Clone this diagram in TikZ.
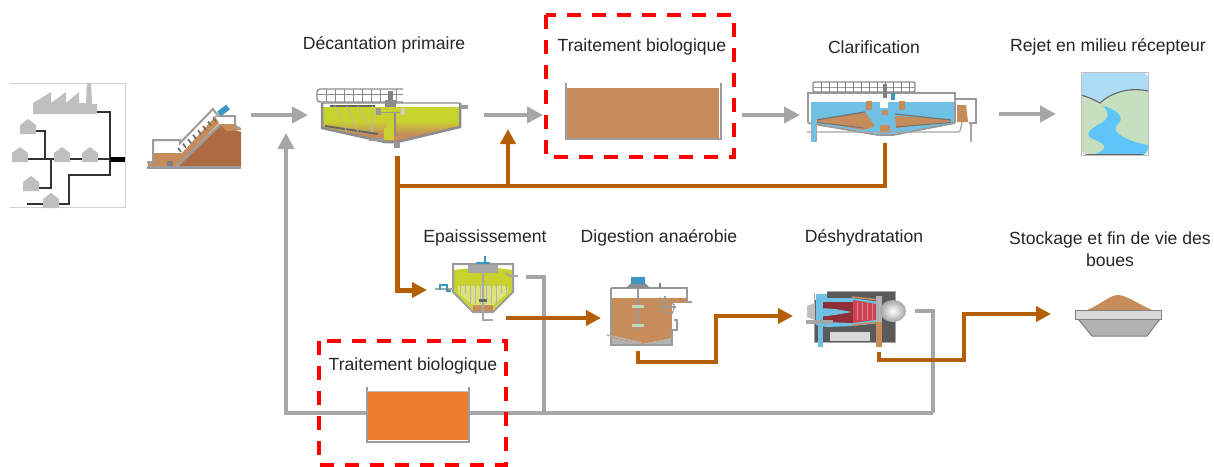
\documentclass[tikz,border=0pt]{standalone}
\usepackage{fontspec}
\setmainfont{Liberation Sans}
\usetikzlibrary{arrows.meta}
\definecolor{flow}{HTML}{A6A6A6}
\definecolor{sludge}{HTML}{B45F06}
\definecolor{mud}{HTML}{C68D5A}
\definecolor{hill}{HTML}{AE6A42}
\definecolor{wall}{HTML}{9C9C9C}
\definecolor{lime}{HTML}{C8D22D}
\definecolor{water}{HTML}{6EC1E4}
\definecolor{motor}{HTML}{3E97C0}
\definecolor{orangefill}{HTML}{ED7D31}
\definecolor{pale}{HTML}{D9D9D9}
\definecolor{dark}{HTML}{5A5A5A}
\definecolor{sky}{HTML}{AEDCF4}
\definecolor{land}{HTML}{C5DFBF}
\definecolor{river}{HTML}{5EC5F8}
\definecolor{rotor}{HTML}{CC4450}
\definecolor{imp}{HTML}{BFD8B8}
\tikzset{
  x=1pt,y=-1pt,
  flowline/.style={draw=flow,line width=4pt},
  flowarrow/.style={flowline,-{Triangle[length=16pt,width=16pt]}},
  sludgeline/.style={draw=sludge,line width=4pt},
  sludgearrow/.style={sludgeline,-{Triangle[length=15pt,width=15pt]}},
  redbox/.style={draw=red,line width=4pt,dash pattern=on 14pt off 11pt},
  label/.style={font=\fontsize{17.6pt}{22pt}\selectfont,text=black!85,align=center,inner sep=0pt},
  wl/.style={draw=wall,line width=2pt},
  pipe/.style={draw=black!80,line width=2pt},
  bldg/.style={fill=black!25,draw=none},
}
\newcommand{\house}[2]{\fill[bldg] (#1-8,#2+7) -- (#1-8,#2-2) -- (#1,#2-8) -- (#1+8,#2-2) -- (#1+8,#2+7) -- cycle;}
\begin{document}
\begin{tikzpicture}
\useasboundingbox (0,0) rectangle (1214,466);
\fill[white] (0,0) rectangle (1214,466);

% ---- named connection points
\coordinate (screenout) at (251,115);
\coordinate (primin) at (308,115);
\coordinate (primout) at (484,115);
\coordinate (bioin) at (543,115);
\coordinate (bioout) at (742,115);
\coordinate (clarin) at (800,115);
\coordinate (clarout) at (999,114);
\coordinate (rivin) at (1056,114);
\coordinate (primdrain) at (397,156);
\coordinate (junc) at (397,186);
\coordinate (thkfeedcorner) at (397,290);
\coordinate (thkin) at (427,290);
\coordinate (clardrain) at (885,143);
\coordinate (clarcorner) at (885,186);
\coordinate (upj) at (508,186);
\coordinate (bioreturn) at (508,129);
\coordinate (thkout) at (506,318);
\coordinate (digin) at (601,318);
\coordinate (digout) at (638,351);
\coordinate (digc1) at (638,362);
\coordinate (digc2) at (716,362);
\coordinate (digc3) at (716,316);
\coordinate (dewin) at (793,316);
\coordinate (dewout) at (879,352);
\coordinate (dewc1) at (879,360);
\coordinate (dewc2) at (964,360);
\coordinate (dewc3) at (964,314);
\coordinate (storein) at (1051,314);
\coordinate (thkover) at (526,277);
\coordinate (thkc) at (544,277);
\coordinate (thkj) at (544,413);
\coordinate (dewover) at (915,311);
\coordinate (dewc) at (933,311);
\coordinate (dewj) at (933,413);
\coordinate (tankr) at (469,413);
\coordinate (tankl) at (367,413);
\coordinate (retc) at (286,413);
\coordinate (retin) at (286,133);

% ---- catchment
\draw[draw=black!18,line width=.8pt] (10,83) -- (125,83) -- (125,207) -- (10,207);
\fill[bldg] (33,114) -- (33,103) -- (51,92) -- (51,103) -- (66,92) -- (66,103) -- (79,92) -- (79,103) -- (86,103) -- (87,83) -- (91,83) -- (92,104) -- (97,104) -- (97,114) -- cycle;
\draw[pipe] (97,112) -- (110,112) -- (110,175) -- (69,175) -- (69,204) -- (27,204);
\draw[pipe] (36,131) -- (45,131) -- (45,159);
\draw[pipe] (28,159) -- (110,159);
\draw[pipe] (51,159) -- (51,188) -- (38,188);
\draw[draw=black,line width=5pt] (110,159) -- (125,159);
\house{28}{127}\house{20}{155}\house{62}{155}\house{90}{155}\house{31}{184}\house{51}{201}

% ---- screen
\fill[hill] (176,167) -- (220,125) -- (241,132) -- (241,167) -- cycle;
\fill[mud] (148,167) -- (176,167) -- (219,123) -- (215,117) -- (182,153) -- (154,153) -- (154,163) -- (148,163) -- cycle;
\fill[mud] (220,124) -- (235,124) -- (241,130) -- (226,131) -- cycle;
\draw[draw=wall,line width=2.5pt] (176,167) -- (220,125);
\draw[wl] (147,162) -- (153,162) -- (153,140) -- (180,140) -- (180,143) -- (213,109) -- (218,116) -- (235,116) -- (235,126) -- (241,129);
\fill[wall] (147,166) rectangle (241,168.5);
\foreach \t in {0,...,7}{\draw[draw=black!60,line width=1.6pt] (178+\t*5,148-\t*4.4) -- (181+\t*5,152-\t*4.4);}
\fill[black!50] (167,161) rectangle (173,166);
\draw[draw=black!30,line width=2pt] (214,118) -- (219,114);
\draw[draw=motor,line width=6pt] (219,114) -- (228,107);

% ---- primary settler
\begin{scope}
  \clip (322,107) -- (460,107) -- (460,127) -- (397,142) -- (385,142) -- (322,128) -- cycle;
  \fill[lime] (322,107) rectangle (460,122);
  \shade[top color=lime,bottom color=mud] (322,121) rectangle (460,134);
  \fill[mud] (322,133.5) rectangle (460,143);
\end{scope}
\draw[draw=black!30,line width=1.5pt] (322,103) -- (460,103);
\draw[draw=black!45,line width=2.5pt] (322,103) -- (322,128) -- (385,142) -- (397,142) -- (460,127) -- (460,103);
\draw[draw=black!60,line width=2pt] (325,126) -- (378,134);
\draw[draw=black!60,line width=1.5pt] (330,106) -- (375,106);
\foreach \a/\b in {335/347,347/358,358/372}{\draw[draw=black!28,line width=.7pt] (\a,106) -- (\b,132);}
\draw[draw=black!28,line width=.7pt] (372,106) -- (372,132);
\draw[draw=black!45,line width=1.4pt,rounded corners=3pt] (403,89) -- (317,89) -- (317,102) -- (403,102);
\draw[draw=black!45,line width=1pt] (317,94) -- (403,94);
\foreach \a in {326,335,344,353,362,371,380,396}{\draw[draw=black!45,line width=.8pt] (\a,89) -- (\a,102);}
\fill[black!50] (388,91) rectangle (393,102);
\fill[black!45] (385,100) rectangle (396,107);
\fill[black!40] (376,108) rectangle (381,115);
\fill[black!20] (401,108) rectangle (405,115);
\draw[draw=black!40,line width=1pt] (381,112) -- (400,112);
\fill[black!45] (394,113) rectangle (395.5,136);
\fill[lime] (387,113) rectangle (394,128);
\fill[lime] (384,128) rectangle (394,140);
\fill[black!40] (369,138) rectangle (384,141);
\fill[black!40] (394,142) rectangle (400,148);
\fill[black!40] (460,105) rectangle (468,109);

% ---- biological tank 1
\fill[mud] (567,88) rectangle (719,138);
\draw[draw=wall,line width=2.5pt] (566,83) -- (566,139) -- (721,139) -- (721,83);

% ---- clarifier
\fill[water] (811,102) rectangle (955,123);
\fill[water] (811,123) -- (955,123) -- (893,134) -- (878,134) -- cycle;
\fill[white] (862,93) rectangle (900,100);
\fill[white] (880,93) rectangle (888,108);
\fill[mud] (817,119) -- (865,112) -- (875,126) -- (864,130) -- (817,122) -- cycle;
\fill[mud] (895,116) -- (896,128) -- (951,122) -- (951,119) -- cycle;
\fill[mud] (866,101) rectangle (872,110);
\fill[mud] (899,101) rectangle (905,110);
\fill[mud] (882,110) rectangle (888,115);
\fill[mud] (880,125) rectangle (890,133);
\draw[draw=black!55,line width=1.2pt] (817,120) -- (865,112);
\draw[draw=black!55,line width=1.2pt] (895,114) -- (951,120);
\draw[draw=black!55,line width=1pt] (817,122.5) -- (864,128);
\draw[draw=black!55,line width=1pt] (896,127) -- (951,122.5);
\draw[draw=black!40,line width=1.8pt] (808,123) -- (808,93) -- (955,93) -- (955,123);
\draw[draw=black!40,line width=1.8pt] (808,123) -- (878,135) -- (893,135) -- (955,123);
\draw[draw=black!40,line width=1.2pt] (955,99) -- (976,99) -- (976,123) -- (969,123);
\fill[mud] (957,105) -- (966,105) -- (968,122) -- (957,122) -- cycle;
\draw[draw=black!45,line width=1.4pt,rounded corners=2pt] (813,92) -- (813,82) -- (915,82) -- (915,92) -- cycle;
\draw[draw=black!40,line width=1pt] (813,87) -- (915,87);
\foreach \a in {821,829,837,845,853,861,869,877,885,893,901,909}{\draw[draw=black!50,line width=.9pt] (\a,82) -- (\a,92);}
\fill[black!50] (883,84) rectangle (887,98);
\fill[motor] (891,93) rectangle (895,100);
\draw[draw=black!35,line width=1.3pt,rounded corners=1.5pt] (807,132) -- (960,132) -- (962,122);
\fill[water] (812,123) rectangle (816,142);
\draw[draw=black!35,line width=1pt] (811.5,123) -- (811.5,142) (816.5,123) -- (816.5,142);
\draw[draw=black!35,line width=2pt] (971,123) -- (971,142);

% ---- river
\begin{scope}
  \clip[rounded corners=7pt] (1081,72) -- (1148,72) -- (1148,155) -- (1081,155) -- cycle;
  \fill[land] (1081,72) rectangle (1148,155);
  \fill[sky] (1081,72) -- (1148,72) -- (1148,91) .. controls (1130,87) and (1112,92) .. (1100,103) .. controls (1095,100) and (1088,97) .. (1081,95) -- cycle;
  \draw[draw=black!60,line width=1.1pt] (1148,91) .. controls (1130,87) and (1112,92) .. (1100,103) .. controls (1095,100) and (1088,97) .. (1081,95);
  \fill[river] (1103,106) .. controls (1118,110) and (1125,118) .. (1118,124) .. controls (1109,131) and (1125,141) .. (1148,145) -- (1148,155) -- (1092,155) .. controls (1108,150) and (1108,145) .. (1095,140) .. controls (1088,137) and (1083,133) .. (1098,125) .. controls (1112,118) and (1108,111) .. (1103,106) -- cycle;
  \fill[black!60] (1081,154) rectangle (1148,155);
\end{scope}
\draw[draw=black!25,line width=.8pt] (1081,72) rectangle (1148,155);

% ---- thickener
\fill[lime] (454,270) -- (470,268) -- (497,268) -- (512,270) -- (512,292) -- (493,310) -- (473,310) -- (454,292) -- cycle;
\fill[mud] (473,305) -- (493,305) -- (493,311) -- (473,311) -- cycle;
\fill[lime!65!white] (458,286) -- (508,286) -- (508,293) -- (493,305) -- (473,305) -- (458,293) -- cycle;
\foreach \a in {460,465,470,475,480,486,491,496,501,506}{\draw[draw=black!30,line width=.6pt] (\a,284) -- (\a,\ifnum\a<468 294\else\ifnum\a>498 294\else 304\fi\fi);}
\draw[wl] (453,264) -- (453,292) -- (473,312) -- (493,312) -- (513,292) -- (513,264) -- cycle;
\fill[black!35] (468,265) rectangle (498,273);
\draw[draw=black!35,line width=1.6pt] (483,273) -- (483,312);
\fill[black!60] (479,299) rectangle (487,302);
\draw[draw=motor,line width=2pt] (476,263) -- (490,263) (485,256) -- (485,264);
\draw[draw=black!35,line width=1.6pt] (435,289) -- (453,289);
\draw[draw=motor,line width=2.4pt] (440,290) -- (440,285) -- (447,285) -- (447,291) -- (451,291);
\draw[draw=black!35,line width=1.6pt] (505,273) -- (510,276) -- (518,276);
\draw[draw=black!35,line width=1.6pt] (483,312) -- (483,320) -- (493,320);

% ---- digester
\fill[black!30] (612,338) -- (642,344) -- (672,338) -- (672,345) -- (612,345) -- cycle;
\fill[mud] (612,298) rectangle (672,338);
\fill[mud] (612,338) -- (642,344) -- (672,338) -- cycle;
\fill[mud] (672,298) rectangle (687,303);
\draw[draw=black!40,line width=1.5pt] (611,288) -- (611,345) -- (672,345) -- (672,330);
\draw[draw=black!40,line width=1.5pt] (611,288) -- (687,288) -- (687,302) -- (692,302);
\draw[draw=black!40,line width=1.5pt] (672,330) -- (677,330) -- (677,320) -- (674,320);
\draw[draw=black!40,line width=1.2pt,rounded corners=1pt] (660,297) -- (660,310) -- (672,314) -- (675,306) -- (672,303);
\draw[draw=black!40,line width=1.2pt] (665,296) -- (665,307) -- (676,307);
\draw[draw=black!50,line width=2pt] (660,283) -- (660,288);
\draw[draw=black!30,line width=1.5pt] (607,335) -- (642,343);
\draw[draw=black!40,line width=1.4pt] (638,288) -- (638,330);
\fill[imp] (632,304.5) rectangle (644,307.5);
\fill[imp] (632,323.5) rectangle (644,326.5);
\fill[black!45] (626,288) -- (631,283) -- (645,283) -- (650,288) -- cycle;
\fill[motor] (631,277) rectangle (645,284);

% ---- dewatering
\fill[dark] (827,291) -- (895,291) -- (895,342) -- (814,342) -- (814,300) -- (827,300) -- cycle;
\draw[draw=black!35,line width=1pt] (827,291) -- (895,291) -- (895,342) -- (814,342) -- (814,293);
\fill[pale] (830,332) rectangle (870,341);
\fill[water] (816,294) -- (827,294) -- (827,298) -- (852,298) -- (880,302) -- (880,323) -- (852,326) -- (827,327) -- (816,325) -- cycle;
\fill[rotor!70!black] (823,302) -- (853,302) -- (853,323) -- (823,322) -- cycle;
\fill[rotor] (853,300) -- (882,305) -- (882,319) -- (853,323) -- cycle;
\foreach \a in {857,862,867,872,877}{\draw[draw=white!35!rotor,line width=.8pt] (\a,303) -- (\a,320);}
\fill[water] (818,308) -- (835,309) -- (852,312) -- (835,315) -- (818,317) -- cycle;
\fill[black!25] (807,306) -- (815,303) -- (815,320) -- (807,317) -- cycle;
\fill[black!35] (806,320) rectangle (833,323.5);
\draw[draw=mud,line width=1.5pt] (852,297) -- (880,300) (852,325) -- (880,322);
\fill[black!30] (876,296) rectangle (882,322);
\shade[inner color=white,outer color=black!35] (893,311) ellipse (13 and 11);
\fill[mud] (876,322) rectangle (882,347);
\fill[water] (818,323) rectangle (823,347);

% ---- storage
\fill[mud] (1087,310) .. controls (1100,305) and (1110,295) .. (1118,295) .. controls (1126,295) and (1140,305) .. (1152,310) -- cycle;
\filldraw[fill=black!30,draw=black!50,line width=1pt] (1078,319) -- (1092,336) -- (1147,336) -- (1160,319) -- cycle;
\filldraw[fill=pale,draw=black!50,line width=1pt] (1075,310) rectangle (1161,319);

% ---- gray flow lines
\draw[flowline] (thkover) -- (thkc) -- (thkj);
\draw[flowline] (dewover) -- (dewc) -- (dewj);
\draw[flowline] (dewj) -- (tankr);
\draw[flowarrow] (tankl) -- (retc) -- (retin);
\draw[flowarrow] (screenout) -- (primin);
\draw[flowarrow] (primout) -- (bioin);
\draw[flowarrow] (bioout) -- (clarin);
\draw[flowarrow] (clarout) -- (rivin);

% ---- sludge lines
\draw[sludgearrow,line width=5pt] (primdrain) -- (thkfeedcorner) -- (thkin);
\draw[sludgeline] (junc) -- (clarcorner) -- (clardrain);
\draw[sludgearrow] (upj) -- (bioreturn);
\draw[sludgearrow] (thkout) -- (digin);
\draw[sludgearrow] (digout) -- (digc1) -- (digc2) -- (digc3) -- (dewin);
\draw[sludgearrow] (dewout) -- (dewc1) -- (dewc2) -- (dewc3) -- (storein);

% ---- biological tank 2
\fill[orangefill] (368,392) rectangle (468,440);
\draw[draw=wall,line width=2.5pt] (367,387) -- (367,442) -- (469,442) -- (469,387);
\draw[draw=black!25,line width=1pt] (367,391.5) -- (469,391.5);

% ---- red boxes
\draw[redbox] (546,15) rectangle (734,157);
\draw[redbox] (319,341) rectangle (506,465);

% ---- labels
\node[label] (l1) at (384,45) {Décantation primaire};
\node[label] (l2) at (642,47) {Traitement biologique};
\node[label] (l3) at (874,47) {Clarification};
\node[label] (l4) at (1108,47) {Rejet en milieu récepteur};
\node[label] (l5) at (485,238) {Epaississement};
\node[label] (l6) at (659,238) {Digestion anaérobie};
\node[label] (l7) at (864,238) {Déshydratation};
\node[label] (l8) at (1110,249) {Stockage et fin de vie des\\boues};
\node[label] (l9) at (413,366) {Traitement biologique};
\end{tikzpicture}
\end{document}
